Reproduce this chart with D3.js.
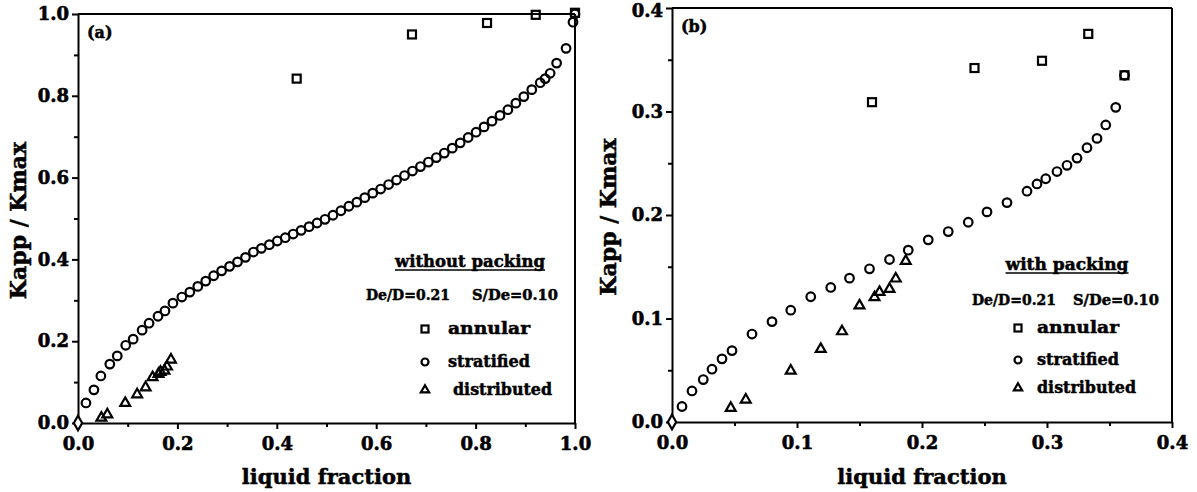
<!DOCTYPE html>
<html lang="en">
<head>
  <meta charset="UTF-8">
  <title>Kapp / Kmax vs liquid fraction</title>
  <script src="https://d3js.org/d3.v7.min.js"></script>
  <style>
    body { margin: 0; background: #fff; }
    text { font-family: "DejaVu Serif", serif; font-weight: bold; fill: #000; stroke: #000; stroke-width: 0.5px; }
    .axis path, .axis line { stroke: #000; stroke-width: 2; }
    .axis text { font-size: 18px; font-family: "DejaVu Serif", serif; font-weight: bold; stroke: #000; stroke-width: 0.6px; }
    .mark { fill: none; stroke: #000; stroke-width: 2.2; }
  </style>
</head>
<body>
  <svg width="1197" height="492"></svg>
  <script>
    // panel (a): without packing
    const annularA = [[0.44, 0.842], [0.672, 0.950], [0.823, 0.978], [0.921, 0.998], [1.0, 1.003]];
    const stratifiedA = [
      [0.016, 0.049], [0.032, 0.081], [0.046, 0.115], [0.064, 0.144], [0.079, 0.164],
      [0.096, 0.190], [0.111, 0.205], [0.129, 0.227], [0.143, 0.244], [0.161, 0.261],
      [0.175, 0.274], [0.191, 0.293], [0.209, 0.308], [0.225, 0.320], [0.241, 0.334],
      [0.257, 0.347], [0.273, 0.360], [0.289, 0.372], [0.305, 0.383], [0.321, 0.394],
      [0.337, 0.405], [0.353, 0.418], [0.369, 0.427], [0.385, 0.436], [0.401, 0.445],
      [0.417, 0.453], [0.433, 0.462], [0.449, 0.471], [0.465, 0.480], [0.481, 0.489],
      [0.497, 0.498], [0.513, 0.508], [0.529, 0.519], [0.545, 0.530], [0.561, 0.540],
      [0.577, 0.551], [0.593, 0.562], [0.609, 0.572], [0.625, 0.583], [0.641, 0.594],
      [0.657, 0.605], [0.673, 0.616], [0.689, 0.627], [0.705, 0.638], [0.721, 0.649],
      [0.737, 0.660], [0.753, 0.672], [0.769, 0.685], [0.785, 0.698], [0.801, 0.711],
      [0.817, 0.724], [0.833, 0.738], [0.849, 0.752], [0.865, 0.766], [0.881, 0.782],
      [0.897, 0.798], [0.913, 0.815], [0.930, 0.832], [0.940, 0.842], [0.950, 0.855],
      [0.963, 0.880], [0.982, 0.916], [0.996, 0.980], [1.0, 1.0]
    ];
    const distributedA = [
      [0.047, 0.014], [0.059, 0.022], [0.095, 0.050], [0.119, 0.071], [0.136, 0.088],
      [0.150, 0.113], [0.162, 0.121], [0.166, 0.126], [0.174, 0.129], [0.179, 0.139], [0.187, 0.156]
    ];

    // panel (b): with packing
    const annularB = [[0.160, 0.309], [0.242, 0.342], [0.296, 0.349], [0.333, 0.375], [0.362, 0.335]];
    const stratifiedB = [
      [0.008, 0.015], [0.016, 0.030], [0.025, 0.041], [0.032, 0.051], [0.040, 0.061],
      [0.048, 0.069], [0.064, 0.085], [0.080, 0.097], [0.095, 0.108], [0.111, 0.121],
      [0.127, 0.130], [0.142, 0.139], [0.158, 0.148], [0.174, 0.157], [0.189, 0.166],
      [0.205, 0.176], [0.221, 0.184], [0.237, 0.193], [0.252, 0.203], [0.268, 0.212],
      [0.284, 0.223], [0.292, 0.230], [0.299, 0.235], [0.308, 0.242], [0.316, 0.248],
      [0.324, 0.255], [0.332, 0.265], [0.340, 0.274], [0.347, 0.287], [0.355, 0.304],
      [0.362, 0.335]
    ];
    const distributedB = distributedA;

    const origin = [[0, 0]];

    const ticksA = [0, 0.2, 0.4, 0.6, 0.8, 1.0];
    const minorA = [0.1, 0.3, 0.5, 0.7, 0.9];
    const ticksB = [0, 0.1, 0.2, 0.3, 0.4];
    const minorB = [0.05, 0.15, 0.25, 0.35];

    const legendItems = ["annular", "stratified", "distributed"];

    const svg = d3.select("svg");

    function drawPanel(o) {
      const x = d3.scaleLinear().domain(o.domain).range([o.left, o.right]);
      const y = d3.scaleLinear().domain(o.domain).range([o.bottom, o.top]);
      const g = svg.append("g");

      // frame top / right
      g.append("line").attr("x1", o.left).attr("x2", o.right).attr("y1", o.top).attr("y2", o.top)
        .attr("stroke", "#000").attr("stroke-width", 2);
      g.append("line").attr("x1", o.right).attr("x2", o.right).attr("y1", o.top).attr("y2", o.bottom)
        .attr("stroke", "#000").attr("stroke-width", 2);

      // minor ticks
      g.append("g").attr("class", "axis").attr("transform", `translate(0,${o.bottom})`)
        .call(d3.axisBottom(x).tickValues(o.minor).tickSize(4).tickFormat(""))
        .select(".domain").remove();
      g.append("g").attr("class", "axis").attr("transform", `translate(${o.left},0)`)
        .call(d3.axisLeft(y).tickValues(o.minor).tickSize(4).tickFormat(""))
        .select(".domain").remove();

      // major axes
      g.append("g").attr("class", "axis").attr("transform", `translate(0,${o.bottom})`)
        .call(d3.axisBottom(x).tickValues(o.ticks).tickSize(6).tickSizeOuter(0).tickPadding(8).tickFormat(d3.format(".1f")));
      const ya = g.append("g").attr("class", "axis").attr("transform", `translate(${o.left},0)`)
        .call(d3.axisLeft(y).tickValues(o.ticks).tickSize(6).tickSizeOuter(0).tickPadding(3).tickFormat(d3.format(".1f")));
      // keep the top label inside the picture
      ya.selectAll(".tick text").filter(d => y(d) < 12).attr("dy", "0.45em");

      // axis titles
      g.append("text").attr("x", (o.left + o.right) / 2).attr("y", 484)
        .attr("text-anchor", "middle").style("font-size", "21px").text("liquid fraction");
      g.append("text").attr("transform", `translate(${o.yTitleX},${(o.top + o.bottom) / 2 + 2}) rotate(-90)`)
        .attr("dy", "0.35em").attr("text-anchor", "middle").style("font-size", "22px").text("Kapp / Kmax");

      // panel tag
      g.append("text").attr("x", o.left + 9).attr("y", o.top + 24)
        .style("font-size", "16px").text(o.tag);

      // data marks
      g.selectAll(".sq").data(o.annular).join("rect").attr("class", "mark")
        .attr("x", d => x(d[0]) - 4).attr("y", d => y(d[1]) - 4).attr("width", 8).attr("height", 8);
      g.selectAll(".ci").data(o.stratified).join("circle").attr("class", "mark")
        .attr("cx", d => x(d[0])).attr("cy", d => y(d[1])).attr("r", 4.3);
      const tri = d3.symbol().type(d3.symbolTriangle).size(42);
      g.selectAll(".tr").data(o.distributed).join("path").attr("class", "mark")
        .attr("transform", d => `translate(${x(d[0])},${y(d[1]) + 0.5})`).attr("d", tri);
      const dia = d3.symbol().type(d3.symbolDiamond).size(60);
      g.selectAll(".di").data(origin).join("path").attr("class", "mark")
        .style("fill", "#fff")
        .attr("transform", d => `translate(${x(d[0])},${y(d[1])})`).attr("d", dia);

      // legend
      const L = o.legend;
      g.append("text").attr("x", L.titleX).attr("y", L.titleY)
        .attr("text-anchor", "middle").style("font-size", "16px")
        .attr("textLength", L.titleW).attr("lengthAdjust", "spacingAndGlyphs").text(o.title);
      g.append("line").attr("x1", L.titleX - L.titleW / 2).attr("x2", L.titleX + L.titleW / 2)
        .attr("y1", L.titleY + 3).attr("y2", L.titleY + 3).attr("stroke", "#000").attr("stroke-width", 1.5);
      g.append("text").attr("x", L.p1X).attr("y", L.paramY).style("font-size", "15px")
        .attr("textLength", 84).attr("lengthAdjust", "spacingAndGlyphs").text("De/D=0.21");
      g.append("text").attr("x", L.p2X).attr("y", L.paramY).style("font-size", "15px")
        .attr("textLength", 86).attr("lengthAdjust", "spacingAndGlyphs").text("S/De=0.10");

      const rowY = L.rows;
      g.append("rect").attr("class", "mark").attr("stroke-width", 1.8)
        .attr("x", L.symX - 3.5).attr("y", rowY[0] - 3.5).attr("width", 7).attr("height", 7);
      g.append("circle").attr("class", "mark").attr("stroke-width", 1.8)
        .attr("cx", L.symX).attr("cy", rowY[1]).attr("r", 3.5);
      g.append("path").attr("class", "mark").attr("stroke-width", 1.8)
        .attr("transform", `translate(${L.symX},${rowY[2]})`)
        .attr("d", d3.symbol().type(d3.symbolTriangle).size(30));
      legendItems.forEach((t, i) => {
        g.append("text").attr("x", L.textX[i]).attr("y", rowY[i] + 5).style("font-size", "17px")
          .attr("textLength", L.textW[i]).attr("lengthAdjust", "spacingAndGlyphs").text(t);
      });
    }

    drawPanel({
      domain: [0, 1], left: 78, right: 575, top: 14, bottom: 423, yTitleX: 18,
      ticks: ticksA, minor: minorA, tag: "(a)", title: "without packing",
      annular: annularA, stratified: stratifiedA, distributed: distributedA,
      legend: {
        titleX: 470, titleY: 267, titleW: 150, p1X: 366, p2X: 472, paramY: 300,
        symX: 425, rows: [329, 362, 390], textX: [448, 448, 453], textW: [82, 82, 99]
      }
    });

    drawPanel({
      domain: [0, 0.4], left: 672, right: 1172, top: 8, bottom: 422, yTitleX: 608,
      ticks: ticksB, minor: minorB, tag: "(b)", title: "with packing",
      annular: annularB, stratified: stratifiedB, distributed: distributedB,
      legend: {
        titleX: 1067, titleY: 270, titleW: 123, p1X: 972, p2X: 1073, paramY: 305,
        symX: 1018, rows: [328, 360, 388], textX: [1037, 1037, 1037], textW: [82, 82, 99]
      }
    });
  </script>
</body>
</html>
